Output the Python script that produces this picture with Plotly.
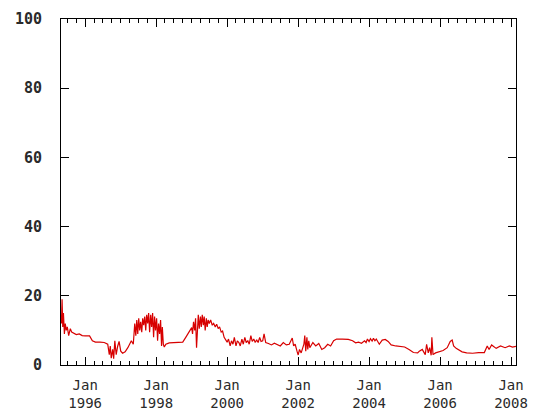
import plotly.graph_objects as go

dates = [
    "1995-05-01","1995-05-08","1995-05-15","1995-05-22","1995-06-01","1995-06-10","1995-06-20",
    "1995-07-01","1995-07-15","1995-08-01","1995-08-15","1995-09-01","1995-10-01","1995-11-01",
    "1995-12-01","1996-01-01","1996-02-15","1996-03-15","1996-04-15","1996-06-01","1996-07-15",
    "1996-08-20","1996-09-05","1996-09-15","1996-09-25","1996-10-10","1996-10-20","1996-11-01",
    "1996-11-15","1996-12-01","1996-12-15","1997-01-01","1997-01-20","1997-02-15","1997-03-15",
    "1997-04-20","1997-05-10","1997-05-25","1997-06-05","1997-06-15","1997-06-25","1997-07-05",
    "1997-07-15","1997-07-25","1997-08-05","1997-08-15","1997-08-25","1997-09-05","1997-09-15",
    "1997-09-25","1997-10-05","1997-10-15","1997-10-25","1997-11-05","1997-11-15","1997-11-25",
    "1997-12-05","1997-12-15","1997-12-25","1998-01-05","1998-01-15","1998-01-25","1998-02-05",
    "1998-02-15","1998-02-25","1998-03-05","1998-03-15","1998-03-25","1998-04-10","1998-05-15",
    "1998-07-01","1998-08-15","1998-10-01","1998-11-01","1998-12-01","1999-01-01","1999-01-10",
    "1999-01-20","1999-02-01","1999-02-10","1999-02-20","1999-03-01","1999-03-10","1999-03-20",
    "1999-04-01","1999-04-10","1999-04-20","1999-05-01","1999-05-10","1999-05-20","1999-06-01",
    "1999-06-10","1999-06-20","1999-07-01","1999-07-15","1999-08-01","1999-08-15","1999-09-01",
    "1999-09-15","1999-10-01","1999-10-15","1999-11-01","1999-11-15","1999-12-01","1999-12-15",
    "2000-01-01","2000-01-15","2000-02-01","2000-02-15","2000-03-01","2000-03-15","2000-04-01",
    "2000-04-15","2000-05-01","2000-05-15","2000-06-01","2000-06-15","2000-07-01","2000-07-15",
    "2000-08-01","2000-08-15","2000-09-01","2000-09-15","2000-10-01","2000-10-15","2000-11-01",
    "2000-11-15","2000-12-01","2000-12-15","2001-01-01","2001-01-15","2001-02-01","2001-03-01",
    "2001-04-01","2001-05-01","2001-06-01","2001-07-01","2001-08-01","2001-09-01","2001-10-01",
    "2001-11-01","2001-11-15","2001-12-01","2001-12-20","2002-01-01","2002-01-15","2002-02-01",
    "2002-03-01","2002-03-10","2002-03-20","2002-04-01","2002-04-10","2002-04-20","2002-05-01",
    "2002-06-01","2002-07-01","2002-08-01","2002-09-01","2002-10-01","2002-11-01","2002-12-01",
    "2003-01-01","2003-02-01","2003-04-01","2003-06-01","2003-07-15","2003-08-15","2003-09-15",
    "2003-10-15","2003-11-15","2003-12-01","2003-12-15","2004-01-01","2004-01-15","2004-02-01",
    "2004-02-15","2004-03-01","2004-03-15","2004-04-01","2004-04-15","2004-05-15","2004-06-15",
    "2004-07-15","2004-08-15","2004-10-01","2004-11-15","2005-01-01","2005-02-15","2005-04-01",
    "2005-05-15","2005-06-01","2005-07-01","2005-08-01","2005-08-15","2005-09-01","2005-09-15",
    "2005-10-01","2005-10-08","2005-10-20","2005-11-15","2005-12-15","2006-02-01","2006-03-15",
    "2006-04-15","2006-05-05","2006-05-20","2006-06-15","2006-08-15","2006-10-01","2006-12-01",
    "2007-02-01","2007-04-01","2007-05-01","2007-05-20","2007-06-15","2007-08-01","2007-09-15",
    "2007-11-01","2007-12-15","2008-01-15","2008-02-20",
]
values = [
    12, 19, 11, 15, 9, 12, 10,
    11, 8.5, 10.5, 9.5, 9.2, 8.8, 9.0,
    8.5, 8.4, 8.4, 7.0, 6.6, 6.6, 6.5,
    6.0, 3.0, 5.5, 2.0, 4.5, 1.8, 7.0,
    3.0, 5.5, 6.8, 4.0, 3.4, 3.8, 5.0,
    7.0, 6.0, 12.0, 8.5, 13.0, 9.0, 13.5,
    10.0, 12.5, 9.5, 13.5, 11.5, 14.0, 10.0,
    14.5, 12.0, 15.0, 9.5, 14.5, 11.0, 15.0,
    8.0, 14.0, 10.0, 13.5, 7.0, 12.0, 9.0,
    13.0, 5.5, 11.0, 6.0, 5.2, 6.0, 6.4,
    6.5, 6.5, 6.6, 8.0, 9.5, 10.8, 9.0,
    12.5, 10.0, 13.5, 5.0, 12.0, 14.5, 10.5,
    14.0, 11.0, 14.5, 11.5, 14.0, 10.0, 13.5,
    11.0, 13.0, 12.0, 13.0, 11.5, 12.0, 11.0,
    11.8, 10.5, 11.0, 9.5, 9.8, 8.0, 7.5,
    6.6, 7.5, 5.5, 7.0, 6.0, 8.0, 5.5,
    7.0, 6.5, 5.5, 7.5, 6.0, 8.0, 6.5,
    7.0, 6.0, 8.5, 6.8, 7.5, 6.6, 7.2,
    6.5, 8.0, 6.8, 7.0, 9.0, 6.5, 6.2,
    5.8, 6.3, 6.0, 5.5, 6.5, 5.8, 6.0,
    7.8, 5.5, 6.0, 4.0, 2.9, 4.5, 3.5,
    6.0, 8.5, 4.0, 8.0, 4.5, 7.0, 5.0,
    6.5, 5.5, 6.2, 4.5, 5.0, 6.0, 5.5,
    7.0, 7.5, 7.5, 7.4, 7.0, 6.4, 6.6,
    6.3, 7.0, 6.5, 7.5, 6.8, 7.6, 6.9,
    7.7, 7.0, 7.5, 6.5, 6.0, 7.2, 7.4,
    6.8, 5.8, 5.5, 5.4, 5.2, 4.5, 3.6,
    3.5, 4.0, 4.5, 3.0, 6.0, 3.5, 5.0,
    2.8, 8.0, 3.0, 3.5, 3.8, 4.2, 5.0,
    6.8, 7.2, 5.5, 4.8, 3.8, 3.5, 3.4,
    3.6, 3.6, 5.5, 4.5, 5.8, 4.8, 5.5,
    5.0, 5.5, 5.2, 5.4,
]

x_tick_vals = ["1996-01-01","1998-01-01","2000-01-01","2002-01-01","2004-01-01","2006-01-01","2008-01-01"]
x_tick_text = ["Jan<br>1996","Jan<br>1998","Jan<br>2000","Jan<br>2002","Jan<br>2004","Jan<br>2006","Jan<br>2008"]
y_tick_vals = [0, 20, 40, 60, 80, 100]

fig = go.Figure()
fig.add_trace(go.Scatter(x=dates, y=values, mode="lines",
                         line=dict(color="rgb(215,0,0)", width=1.2)))

xfont = dict(family="DejaVu Sans Mono", size=14, color="#2a2a2a")
yfont = dict(family="DejaVu Sans Mono", size=15, color="#2a2a2a", weight="bold")
fig.update_layout(
    width=535, height=413,
    margin=dict(l=61, r=19, t=19, b=48, autoexpand=False),
    paper_bgcolor="white", plot_bgcolor="white",
    showlegend=False,
    font=xfont,
)
fig.update_xaxes(
    type="date", range=["1995-04-27", "2008-02-21"],
    tickvals=x_tick_vals, ticktext=x_tick_text,
    ticks="inside", ticklen=8, tickcolor="black", tickwidth=1,
    minor=dict(dtick="M3", tick0="1996-01-01", ticks="inside", ticklen=4, tickcolor="black"),
    showline=True, linecolor="black", linewidth=1, mirror="allticks",
    showgrid=False, zeroline=False, tickfont=xfont, automargin=False,
    ticklabelstandoff=7,
)
fig.update_yaxes(
    range=[0, 100], tickvals=y_tick_vals,
    ticks="inside", ticklen=8, tickcolor="black", tickwidth=1,
    showline=True, linecolor="black", linewidth=1, mirror="allticks",
    showgrid=False, zeroline=False, tickfont=yfont, automargin=False,
    ticklabelstandoff=15,
)
fig.write_html("out.html", config={"displayModeBar": False},
               post_script="document.body.style.margin='0';document.body.style.overflow='hidden';")
